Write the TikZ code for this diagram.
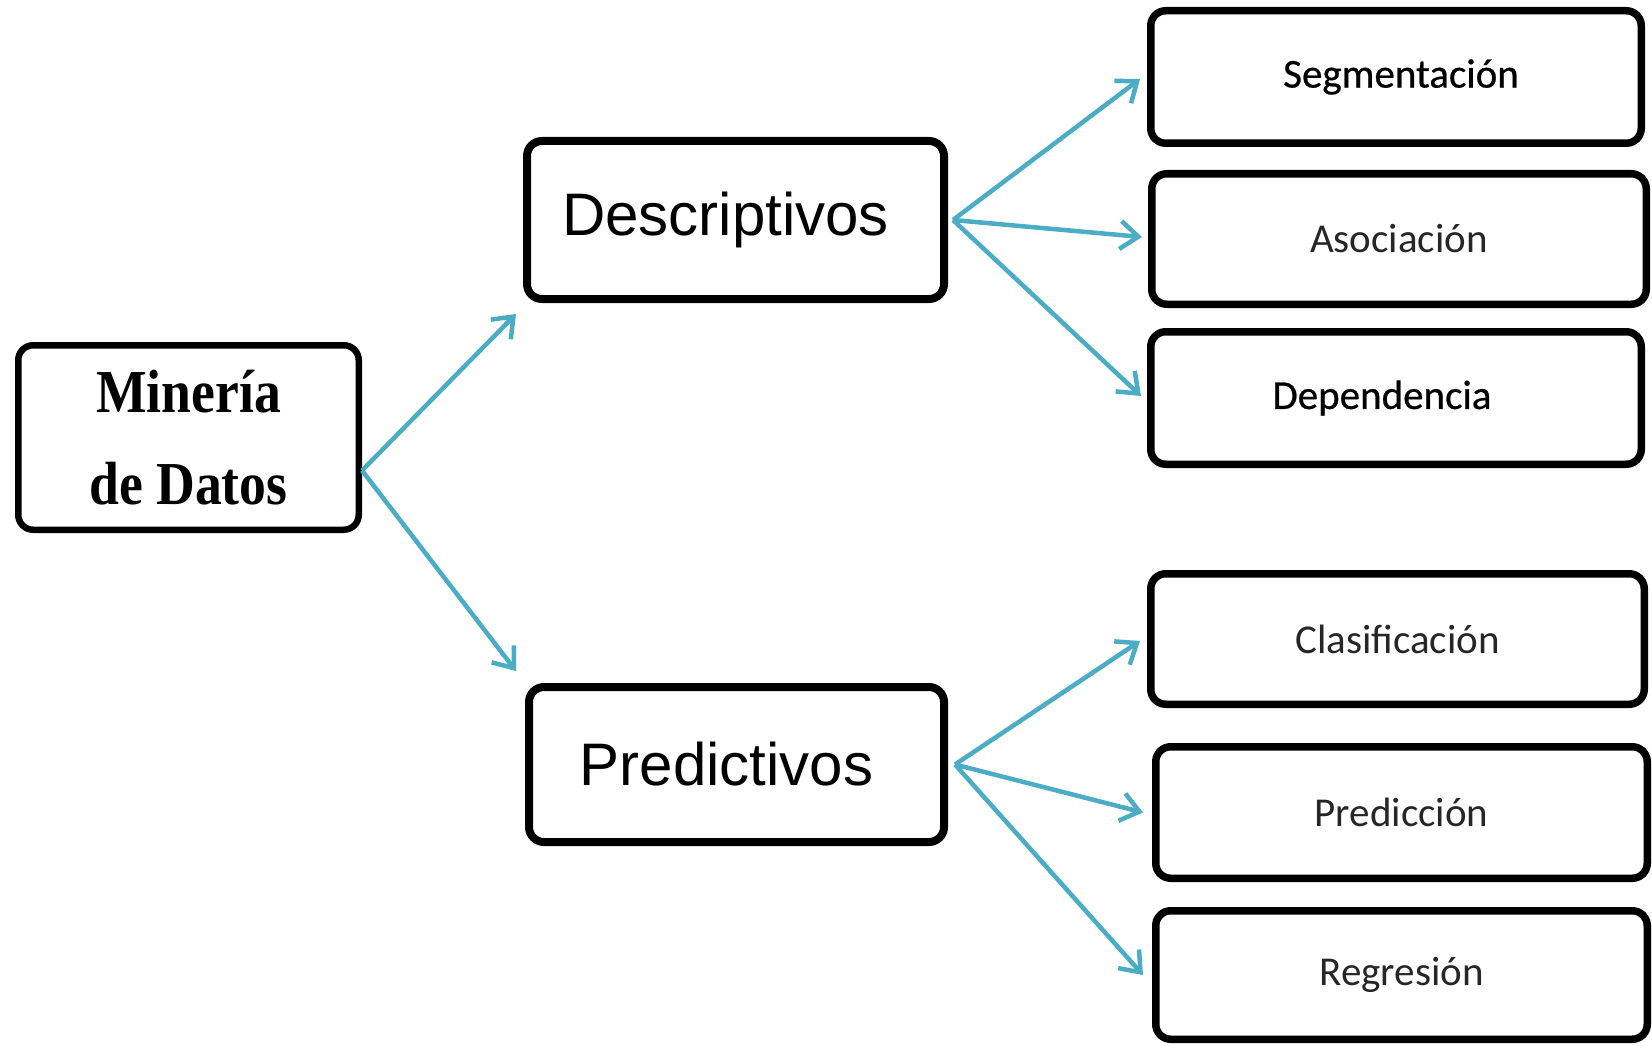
\documentclass[tikz,border=0pt]{standalone}
\usepackage{fontspec}
\usetikzlibrary{arrows.meta}
\newfontfamily\titlefont[FakeStretch=0.88]{Liberation Serif}
\newfontfamily\groupfont{Liberation Sans}
\newfontfamily\leaffont{Carlito}
\newfontfamily\leafdarkfont[FakeBold=0.6]{Carlito}
\definecolor{arrowteal}{RGB}{75,172,198}
\begin{document}
\begin{tikzpicture}[x=1pt,y=-1pt,
  box/.style={draw=black, line width=8pt, rounded corners=15pt, fill=white,
              inner sep=0pt, align=center},
  groupbox/.style={box, font=\groupfont\fontsize{60}{72}\selectfont},
  leafbox/.style={box, line width=7.5pt, text=black!85,
                  font=\leaffont\fontsize{41}{49}\selectfont},
  conn/.style={draw=arrowteal, line width=4.5pt,
               -{Straight Barb[length=18pt,width=28pt]}},
]
\useasboundingbox (0,0) rectangle (1652,1046);

% root
\node[box, line width=6.5pt, minimum width=340.5pt, minimum height=184.5pt,
      font=\titlefont\bfseries\fontsize{61}{92}\selectfont]
  (min) at (188.5,437.5) {Minería\\de Datos};

% groups
\node[groupbox, minimum width=417pt, minimum height=158pt]
  (desc) at (735.5,220) {\hspace*{-20pt}Descriptivos};
\node[groupbox, minimum width=415pt, minimum height=155pt]
  (pred) at (736.5,764.5) {\hspace*{-20pt}Predictivos};

% descriptive tasks
\node[leafbox, minimum width=490.5pt, minimum height=132.5pt] (seg) at (1396,77)
  {\hspace*{10pt}\leafdarkfont\color{black}Segmentación};
\node[leafbox, minimum width=494.5pt, minimum height=130.5pt] (aso) at (1399,239)
  {Asociación};
\node[leafbox, minimum width=490.5pt, minimum height=132.5pt] (dep) at (1396,398)
  {\hspace*{-28pt}\leafdarkfont\color{black}Dependencia};

% predictive tasks
\node[leafbox, minimum width=493.5pt, minimum height=130.5pt] (cla) at (1397.5,639)
  {Clasificación};
\node[leafbox, minimum width=491.5pt, minimum height=131.5pt] (prd) at (1401.5,812.5)
  {Predicción};
\node[leafbox, minimum width=491.5pt, minimum height=128.5pt] (reg) at (1401.5,975)
  {Regresión};

% connectors
\draw[conn] ([yshift=-33pt]min.east) -- ([xshift=-7pt,yshift=-11pt]desc.south west);
\draw[conn] ([yshift=-33pt]min.east) -- ([xshift=-9pt,yshift=12pt]pred.north west);

\draw[conn] ([xshift=5pt]desc.east) -- ([xshift=-7pt,yshift=-2pt]seg.west);
\draw[conn] ([xshift=5pt]desc.east) -- ([xshift=-6pt,yshift=2pt]aso.west);
\draw[conn] ([xshift=5pt]desc.east) -- ([xshift=-6pt,yshift=2pt]dep.west);

\draw[conn] ([xshift=7pt]pred.east) -- ([xshift=-7pt,yshift=-2pt]cla.west);
\draw[conn] ([xshift=7pt]pred.east) -- ([xshift=-9pt]prd.west);
\draw[conn] ([xshift=7pt]pred.east) -- ([xshift=-9pt]reg.west);
\end{tikzpicture}
\end{document}
